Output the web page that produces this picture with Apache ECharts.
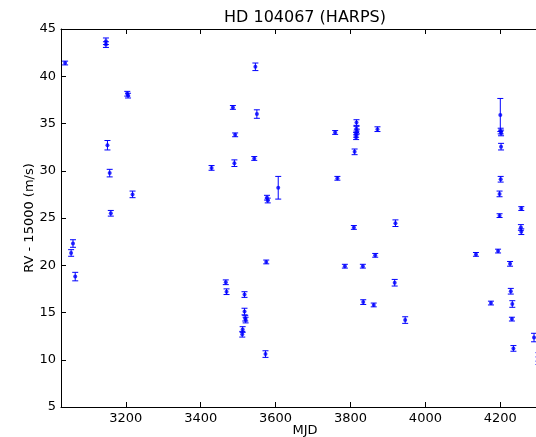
<!DOCTYPE html>
<html>
<head>
<meta charset="utf-8">
<script src="https://cdn.jsdelivr.net/npm/echarts@6/dist/echarts.min.js"></script>
<style>
html,body{margin:0;padding:0;background:#fff;overflow:hidden;width:536px;height:437px;}
#chart{width:570px;height:437px;}
</style>
</head>
<body>
<div id="chart"></div>
<script>
const titleText = 'HD 104067 (HARPS)';
const xLabel = 'MJD';
const yLabel = 'RV - 15000 (m/s)';
const xTicks = [3200, 3400, 3600, 3800, 4000, 4200];
const yTicks = [5, 10, 15, 20, 25, 30, 35, 40, 45];

const mjd = [3038, 3147, 3147, 3204, 3206, 3151, 3157, 3218, 3160, 3059, 3054, 3065,
  3546, 3486, 3550, 3492, 3543, 3490, 3429, 3607, 3577, 3579, 3575, 3467, 3469, 3517,
  3517, 3519, 3520, 3512, 3511, 3573,
  3816, 3759, 3816, 3817, 3815, 3815, 3872, 3811, 3765, 3809, 3920, 3866, 3785, 3833,
  3918, 3834, 3862, 3946,
  4200, 4201, 4202, 4202, 4201, 4198, 4256, 4198, 4255, 4256, 4135, 4194, 4226, 4175,
  4228, 4232, 4231, 4235, 4290, 4302, 4302];
const rv = [41.4, 43.7, 43.35, 38.15, 37.95, 32.7, 29.75, 27.5, 25.5, 22.3, 21.3, 18.8,
  41.0, 36.7, 36.0, 33.8, 31.3, 30.8, 30.3, 28.2, 27.15, 26.85, 20.35, 18.2, 17.2, 16.9,
  15.1, 14.4, 14.2, 13.2, 12.7, 10.6,
  35.1, 34.05, 34.45, 34.15, 33.8, 33.55, 34.4, 32.0, 29.2, 24.0, 24.45, 21.05, 19.9, 19.9,
  18.15, 16.1, 15.8, 14.2,
  35.9, 34.2, 34.0, 32.55, 29.1, 27.55, 26.0, 25.25, 24.0, 23.55, 21.15, 21.5, 20.15, 16.0,
  17.25, 15.9, 14.3, 11.2, 12.35, 10.3, 9.9];
const err = [0.2, 0.35, 0.3, 0.25, 0.25, 0.5, 0.4, 0.35, 0.3, 0.4, 0.35, 0.45,
  0.4, 0.2, 0.45, 0.2, 0.2, 0.35, 0.25, 1.2, 0.25, 0.25, 0.2, 0.25, 0.3, 0.3,
  0.35, 0.3, 0.3, 0.3, 0.3, 0.35,
  0.3, 0.2, 0.25, 0.25, 0.25, 0.25, 0.25, 0.3, 0.2, 0.2, 0.35, 0.2, 0.2, 0.2,
  0.35, 0.25, 0.2, 0.35,
  1.75, 0.3, 0.3, 0.35, 0.3, 0.3, 0.2, 0.2, 0.3, 0.3, 0.2, 0.2, 0.25, 0.2,
  0.3, 0.35, 0.2, 0.3, 0.45, 0.45, 0.4];

const points = mjd.map((m, i) => [m, rv[i]]);
const bars = mjd.map((m, i) => [m, rv[i], err[i]]);

const BLUE = '#0000ff';
const FONT = 'DejaVu Sans';

const chart = echarts.init(document.getElementById('chart'), null, {renderer: 'canvas'});

function renderErr(params, api) {
  const x = api.value(0), y = api.value(1), e = api.value(2);
  const lo = api.coord([x, y - e]);
  const hi = api.coord([x, y + e]);
  const cap = 3;
  const style = {stroke: BLUE, lineWidth: 1, fill: null};
  return {
    type: 'group',
    children: [
      {type: 'line', shape: {x1: lo[0], y1: lo[1], x2: hi[0], y2: hi[1]}, style: style},
      {type: 'line', shape: {x1: lo[0] - cap, y1: lo[1], x2: lo[0] + cap, y2: lo[1]}, style: style},
      {type: 'line', shape: {x1: hi[0] - cap, y1: hi[1], x2: hi[0] + cap, y2: hi[1]}, style: style}
    ]
  };
}

const axisCommon = {
  type: 'value',
  min: 3027,
  max: 4330,
  splitLine: {show: false},
  axisLine: {show: true, onZero: false, lineStyle: {color: '#000', width: 1}},
  axisTick: {show: true, inside: true, length: 5, customValues: xTicks, lineStyle: {color: '#000'}}
};

chart.setOption({
  animation: false,
  backgroundColor: '#fff',
  graphic: [{
    type: 'text', x: 305, y: 18,
    style: {text: titleText, font: '16px "DejaVu Sans"', fill: '#000', textAlign: 'center', textVerticalAlign: 'middle'}
  }],
  grid: {left: 61, width: 488, top: 29, height: 378, containLabel: false, outerBoundsMode: 'none'},
  xAxis: [
    Object.assign({}, axisCommon, {
      position: 'bottom',
      name: xLabel, nameLocation: 'middle', nameGap: 17, nameMoveOverlap: false,
      nameTextStyle: {fontFamily: FONT, fontSize: 13, color: '#000'},
      axisLabel: {show: true, customValues: xTicks, formatter: v => String(v), fontFamily: FONT, fontSize: 13, color: '#000', margin: 5}
    }),
    Object.assign({}, axisCommon, {
      position: 'top',
      axisLabel: {show: false}
    })
  ],
  yAxis: {
    type: 'value',
    min: 5, max: 45, interval: 5,
    splitLine: {show: false},
    name: yLabel, nameLocation: 'middle', nameGap: 25, nameMoveOverlap: false,
    nameTextStyle: {fontFamily: FONT, fontSize: 13, color: '#000'},
    axisLine: {show: true, onZero: false, lineStyle: {color: '#000', width: 1}},
    axisTick: {show: true, inside: true, length: 5, customValues: yTicks, lineStyle: {color: '#000'}},
    axisLabel: {show: true, customValues: yTicks, formatter: v => String(v), fontFamily: FONT, fontSize: 13, color: '#000', margin: 5}
  },
  series: [
    {
      type: 'custom',
      xAxisIndex: 0, yAxisIndex: 0,
      renderItem: renderErr,
      data: bars,
      encode: {x: 0, y: 1},
      silent: true
    },
    {
      type: 'scatter',
      xAxisIndex: 0, yAxisIndex: 0,
      data: points,
      symbol: 'circle',
      symbolSize: 4,
      itemStyle: {color: BLUE},
      silent: true
    }
  ]
});
</script>
</body>
</html>
